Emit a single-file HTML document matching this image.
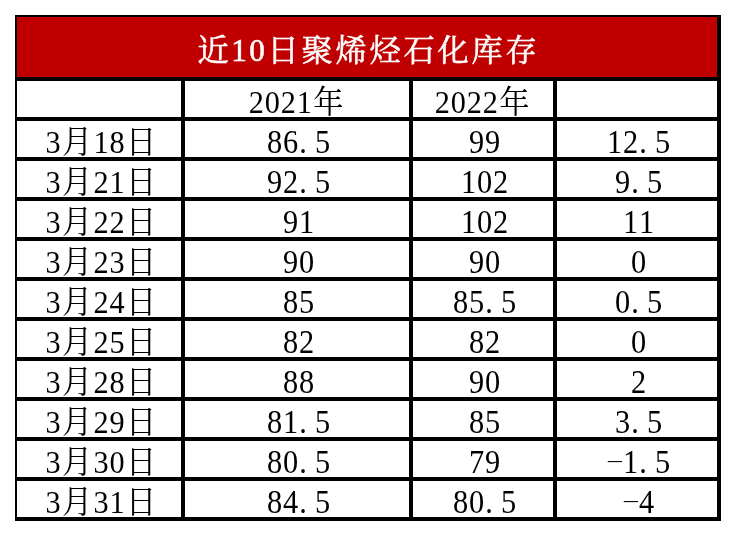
<!DOCTYPE html>
<html lang="zh-CN">
<head>
<meta charset="utf-8">
<title>近10日聚烯烃石化库存</title>
<style>
html,body{margin:0;padding:0;background:#fff;}
body{width:736px;height:536px;position:relative;overflow:hidden;}
table{position:absolute;left:15px;top:15px;width:706px;table-layout:fixed;border-collapse:separate;border-spacing:0;border-left:2px solid #000;border-top:2px solid #000;font-family:"Liberation Serif","Noto Serif CJK SC",serif;font-size:32px;font-weight:normal;color:#000;}
th,td{padding:0;margin:0;height:36px;border-right:4px solid #000;border-bottom:4px solid #000;font-weight:normal;text-align:left;vertical-align:top;line-height:0;overflow:visible;}
caption,.ttl th{height:60px;background:#c00000;}
svg{display:block;overflow:visible;}
text{font-family:"Liberation Serif","Noto Serif CJK SC",serif;fill:#000;}
.m{font-size:14px;}
.ttl text{fill:#fff;stroke:#fff;stroke-width:0.6px;}
</style>
</head>
<body>
<table>
<colgroup><col style="width:168px"><col style="width:228px"><col style="width:144px"><col style="width:164px"></colgroup>
<thead>
<tr class="ttl"><th colspan="4"><svg width="700" height="60" viewBox="0 0 700 60"><text font-size="32" transform="translate(350 0) scale(0.975 0.975)" x="-173.95 -139.28 -120.82 -102.15 -67.28 -32.41 2.46 37.33 72.21 107.08 141.95" y="45.44 44.92 44.92 45.44 45.44 45.44 45.44 45.44 45.44 45.44 45.44">近10日聚烯烃石化库存</text></svg></th></tr>
<tr><th></th><th><svg width="224" height="36" viewBox="0 0 224 36"><text font-size="32" transform="translate(111.25 0) scale(0.945 1)" x="-50.33 -33.4 -16.47 0.47 17.86" y="31.8 31.8 31.8 31.8 32.4">2021年</text></svg></th><th><svg width="140" height="36" viewBox="0 0 140 36"><text font-size="32" transform="translate(69.25 0) scale(0.945 1)" x="-50.33 -33.4 -16.47 0.47 17.86" y="31.8 31.8 31.8 31.8 32.4">2022年</text></svg></th><th></th></tr>
</thead>
<tbody>
<tr><td><svg width="164" height="36" viewBox="0 0 164 36"><text font-size="32" transform="translate(84 0) scale(0.945 1)" x="-58.79 -41.4 -8 8.93 26.33" y="31.8 32.4 31.8 31.8 32.4">3月18日</text></svg></td><td><svg width="224" height="36" viewBox="0 0 224 36"><text font-size="33" transform="translate(113.5 0) scale(0.92 1)" x="-34.34 -16.95 0.93 17.84" y="31.7">86.5</text></svg></td><td><svg width="140" height="36" viewBox="0 0 140 36"><text font-size="33" transform="translate(71.5 0) scale(0.92 1)" x="-16.95 0.45" y="31.7">99</text></svg></td><td><svg width="160" height="36" viewBox="0 0 160 36"><text font-size="33" transform="translate(81.5 0) scale(0.92 1)" x="-34.34 -16.95 0.93 17.84" y="31.7">12.5</text></svg></td></tr>
<tr><td><svg width="164" height="36" viewBox="0 0 164 36"><text font-size="32" transform="translate(84 0) scale(0.945 1)" x="-58.79 -41.4 -8 8.93 26.33" y="31.8 32.4 31.8 31.8 32.4">3月21日</text></svg></td><td><svg width="224" height="36" viewBox="0 0 224 36"><text font-size="33" transform="translate(113.5 0) scale(0.92 1)" x="-34.34 -16.95 0.93 17.84" y="31.7">92.5</text></svg></td><td><svg width="140" height="36" viewBox="0 0 140 36"><text font-size="33" transform="translate(71.5 0) scale(0.92 1)" x="-25.64 -8.25 9.14" y="31.7">102</text></svg></td><td><svg width="160" height="36" viewBox="0 0 160 36"><text font-size="33" transform="translate(81.5 0) scale(0.92 1)" x="-25.64 -7.77 9.14" y="31.7">9.5</text></svg></td></tr>
<tr><td><svg width="164" height="36" viewBox="0 0 164 36"><text font-size="32" transform="translate(84 0) scale(0.945 1)" x="-58.79 -41.4 -8 8.93 26.33" y="31.8 32.4 31.8 31.8 32.4">3月22日</text></svg></td><td><svg width="224" height="36" viewBox="0 0 224 36"><text font-size="33" transform="translate(113.5 0) scale(0.92 1)" x="-16.95 0.45" y="31.7">91</text></svg></td><td><svg width="140" height="36" viewBox="0 0 140 36"><text font-size="33" transform="translate(71.5 0) scale(0.92 1)" x="-25.64 -8.25 9.14" y="31.7">102</text></svg></td><td><svg width="160" height="36" viewBox="0 0 160 36"><text font-size="33" transform="translate(81.5 0) scale(0.92 1)" x="-16.95 0.45" y="31.7">11</text></svg></td></tr>
<tr><td><svg width="164" height="36" viewBox="0 0 164 36"><text font-size="32" transform="translate(84 0) scale(0.945 1)" x="-58.79 -41.4 -8 8.93 26.33" y="31.8 32.4 31.8 31.8 32.4">3月23日</text></svg></td><td><svg width="224" height="36" viewBox="0 0 224 36"><text font-size="33" transform="translate(113.5 0) scale(0.92 1)" x="-16.95 0.45" y="31.7">90</text></svg></td><td><svg width="140" height="36" viewBox="0 0 140 36"><text font-size="33" transform="translate(71.5 0) scale(0.92 1)" x="-16.95 0.45" y="31.7">90</text></svg></td><td><svg width="160" height="36" viewBox="0 0 160 36"><text font-size="33" transform="translate(81.5 0) scale(0.92 1)" x="-8.25" y="31.7">0</text></svg></td></tr>
<tr><td><svg width="164" height="36" viewBox="0 0 164 36"><text font-size="32" transform="translate(84 0) scale(0.945 1)" x="-58.79 -41.4 -8 8.93 26.33" y="31.8 32.4 31.8 31.8 32.4">3月24日</text></svg></td><td><svg width="224" height="36" viewBox="0 0 224 36"><text font-size="33" transform="translate(113.5 0) scale(0.92 1)" x="-16.95 0.45" y="31.7">85</text></svg></td><td><svg width="140" height="36" viewBox="0 0 140 36"><text font-size="33" transform="translate(71.5 0) scale(0.92 1)" x="-34.34 -16.95 0.93 17.84" y="31.7">85.5</text></svg></td><td><svg width="160" height="36" viewBox="0 0 160 36"><text font-size="33" transform="translate(81.5 0) scale(0.92 1)" x="-25.64 -7.77 9.14" y="31.7">0.5</text></svg></td></tr>
<tr><td><svg width="164" height="36" viewBox="0 0 164 36"><text font-size="32" transform="translate(84 0) scale(0.945 1)" x="-58.79 -41.4 -8 8.93 26.33" y="31.8 32.4 31.8 31.8 32.4">3月25日</text></svg></td><td><svg width="224" height="36" viewBox="0 0 224 36"><text font-size="33" transform="translate(113.5 0) scale(0.92 1)" x="-16.95 0.45" y="31.7">82</text></svg></td><td><svg width="140" height="36" viewBox="0 0 140 36"><text font-size="33" transform="translate(71.5 0) scale(0.92 1)" x="-16.95 0.45" y="31.7">82</text></svg></td><td><svg width="160" height="36" viewBox="0 0 160 36"><text font-size="33" transform="translate(81.5 0) scale(0.92 1)" x="-8.25" y="31.7">0</text></svg></td></tr>
<tr><td><svg width="164" height="36" viewBox="0 0 164 36"><text font-size="32" transform="translate(84 0) scale(0.945 1)" x="-58.79 -41.4 -8 8.93 26.33" y="31.8 32.4 31.8 31.8 32.4">3月28日</text></svg></td><td><svg width="224" height="36" viewBox="0 0 224 36"><text font-size="33" transform="translate(113.5 0) scale(0.92 1)" x="-16.95 0.45" y="31.7">88</text></svg></td><td><svg width="140" height="36" viewBox="0 0 140 36"><text font-size="33" transform="translate(71.5 0) scale(0.92 1)" x="-16.95 0.45" y="31.7">90</text></svg></td><td><svg width="160" height="36" viewBox="0 0 160 36"><text font-size="33" transform="translate(81.5 0) scale(0.92 1)" x="-8.25" y="31.7">2</text></svg></td></tr>
<tr><td><svg width="164" height="36" viewBox="0 0 164 36"><text font-size="32" transform="translate(84 0) scale(0.945 1)" x="-58.79 -41.4 -8 8.93 26.33" y="31.8 32.4 31.8 31.8 32.4">3月29日</text></svg></td><td><svg width="224" height="36" viewBox="0 0 224 36"><text font-size="33" transform="translate(113.5 0) scale(0.92 1)" x="-34.34 -16.95 0.93 17.84" y="31.7">81.5</text></svg></td><td><svg width="140" height="36" viewBox="0 0 140 36"><text font-size="33" transform="translate(71.5 0) scale(0.92 1)" x="-16.95 0.45" y="31.7">85</text></svg></td><td><svg width="160" height="36" viewBox="0 0 160 36"><text font-size="33" transform="translate(81.5 0) scale(0.92 1)" x="-25.64 -7.77 9.14" y="31.7">3.5</text></svg></td></tr>
<tr><td><svg width="164" height="36" viewBox="0 0 164 36"><text font-size="32" transform="translate(84 0) scale(0.945 1)" x="-58.79 -41.4 -8 8.93 26.33" y="31.8 32.4 31.8 31.8 32.4">3月30日</text></svg></td><td><svg width="224" height="36" viewBox="0 0 224 36"><text font-size="33" transform="translate(113.5 0) scale(0.92 1)" x="-34.34 -16.95 0.93 17.84" y="31.7">80.5</text></svg></td><td><svg width="140" height="36" viewBox="0 0 140 36"><text font-size="33" transform="translate(71.5 0) scale(0.92 1)" x="-16.95 0.45" y="31.7">79</text></svg></td><td><svg width="160" height="36" viewBox="0 0 160 36"><text font-size="33" transform="translate(81.5 0) scale(0.92 1)" x="-35.66 -16.95 0.93 17.84" y="23.8 31.7 31.7 31.7"><tspan class="m" textLength="19.9" lengthAdjust="spacingAndGlyphs">-</tspan>1.5</text></svg></td></tr>
<tr><td><svg width="164" height="36" viewBox="0 0 164 36"><text font-size="32" transform="translate(84 0) scale(0.945 1)" x="-58.79 -41.4 -8 8.93 26.33" y="31.8 32.4 31.8 31.8 32.4">3月31日</text></svg></td><td><svg width="224" height="36" viewBox="0 0 224 36"><text font-size="33" transform="translate(113.5 0) scale(0.92 1)" x="-34.34 -16.95 0.93 17.84" y="31.7">84.5</text></svg></td><td><svg width="140" height="36" viewBox="0 0 140 36"><text font-size="33" transform="translate(71.5 0) scale(0.92 1)" x="-34.34 -16.95 0.93 17.84" y="31.7">80.5</text></svg></td><td><svg width="160" height="36" viewBox="0 0 160 36"><text font-size="33" transform="translate(81.5 0) scale(0.92 1)" x="-18.27 0.45" y="23.8 31.7"><tspan class="m" textLength="19.9" lengthAdjust="spacingAndGlyphs">-</tspan>4</text></svg></td></tr>
</tbody>
</table>
</body>
</html>
